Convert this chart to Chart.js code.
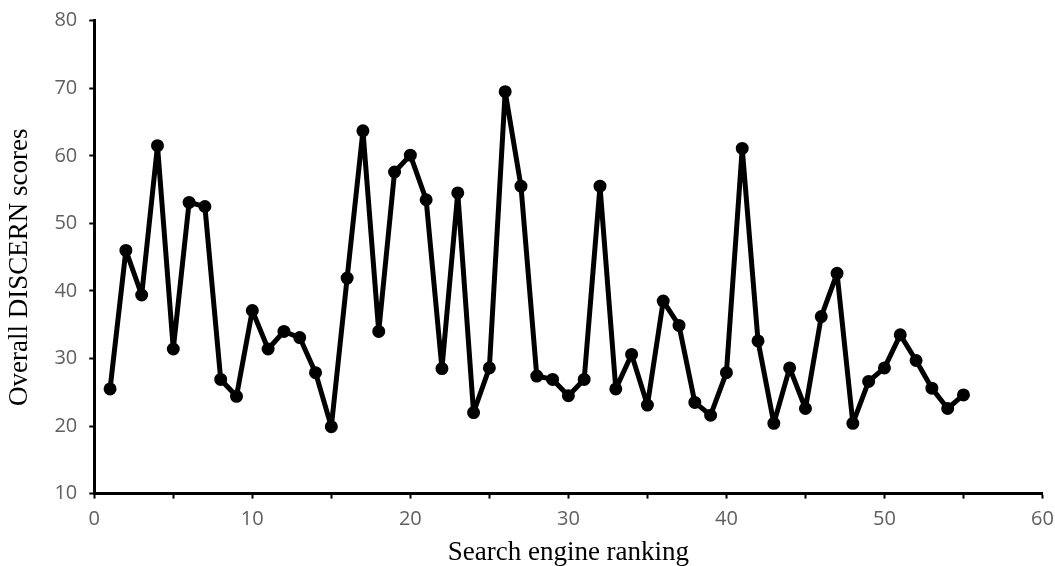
<!DOCTYPE html>
<html>
<head>
<meta charset="utf-8">
<script src="https://cdn.jsdelivr.net/npm/chart.js@4"></script>
<style>
  html, body { margin: 0; padding: 0; background: #fff; }
  #wrap { width: 1055px; height: 566px; }
</style>
</head>
<body>
<div id="wrap"><canvas id="c" width="1055" height="566"></canvas></div>
<script>
const rankings = [1,2,3,4,5,6,7,8,9,10,11,12,13,14,15,16,17,18,19,20,21,22,23,24,25,26,27,28,29,30,31,32,33,34,35,36,37,38,39,40,41,42,43,44,45,46,47,48,49,50,51,52,53,54,55];
const scores = [25.5, 46.0, 39.4, 61.5, 31.4, 53.1, 52.5, 26.9, 24.4, 37.1,
                31.4, 34.0, 33.1, 27.9, 19.9, 41.9, 63.7, 34.0, 57.6, 60.1,
                53.5, 28.5, 54.5, 22.0, 28.6, 69.5, 55.5, 27.4, 26.9, 24.5,
                26.9, 55.5, 25.5, 30.6, 23.1, 38.5, 34.9, 23.5, 21.6, 27.9,
                61.1, 32.6, 20.4, 28.6, 22.6, 36.2, 42.6, 20.4, 26.6, 28.6,
                33.5, 29.7, 25.6, 22.6, 24.6];
const xTitle = 'Search engine ranking';
const yTitle = 'Overall DISCERN scores';
const xMin = 0, xMax = 60, xStep = 5, xLabelEvery = 10;
const yMin = 10, yMax = 80, yStep = 10;

const points = rankings.map((r, i) => ({ x: r, y: scores[i] }));

const tickFont = { family: '"Open Sans", "Liberation Sans", sans-serif', size: 20 };
const tickColor = '#606060';
const titleFamily = '"Liberation Serif", "Times New Roman", serif';

new Chart(document.getElementById('c'), {
  type: 'line',
  data: {
    datasets: [{
      data: points,
      borderColor: '#000',
      backgroundColor: '#000',
      borderWidth: 5,
      borderJoinStyle: 'round',
      borderCapStyle: 'round',
      pointRadius: 5.5,
      pointBorderWidth: 2,
      pointBackgroundColor: '#000',
      pointBorderColor: '#000',
      tension: 0
    }]
  },
  options: {
    responsive: false,
    animation: false,
    devicePixelRatio: 1,
    layout: { padding: { top: 20.7, right: 0, left: 4, bottom: -3 } },
    plugins: { legend: { display: false }, tooltip: { enabled: false } },
    scales: {
      x: {
        type: 'linear',
        min: xMin, max: xMax,
        afterFit: (scale) => { scale.paddingRight = 12.5; scale.paddingLeft = 0; },
        ticks: {
          stepSize: xStep,
          color: tickColor,
          font: tickFont,
          padding: 9,
          maxRotation: 0,
          autoSkip: false,
          callback: (v) => (v % xLabelEvery === 0 ? String(v) : '')
        },
        grid: { display: true, drawOnChartArea: false, tickLength: 5, tickWidth: 2, tickColor: '#000' },
        border: { display: true, color: '#000', width: 3 },
        title: {
          display: true, text: xTitle, color: '#000',
          font: { family: titleFamily, size: 27 },
          padding: { top: -4, bottom: 0 }
        }
      },
      y: {
        min: yMin, max: yMax,
        afterFit: (scale) => { scale.paddingTop = 0; scale.paddingBottom = 0; },
        ticks: { stepSize: yStep, color: tickColor, font: tickFont, padding: 12 },
        grid: { display: true, drawOnChartArea: false, tickLength: 5, tickWidth: 2, tickColor: '#000' },
        border: { display: true, color: '#000', width: 3 },
        title: {
          display: true, text: yTitle + '   ', color: '#000',
          font: { family: titleFamily, size: 27 },
          padding: { top: 0, bottom: 6 }
        }
      }
    }
  }
});
</script>
</body>
</html>
